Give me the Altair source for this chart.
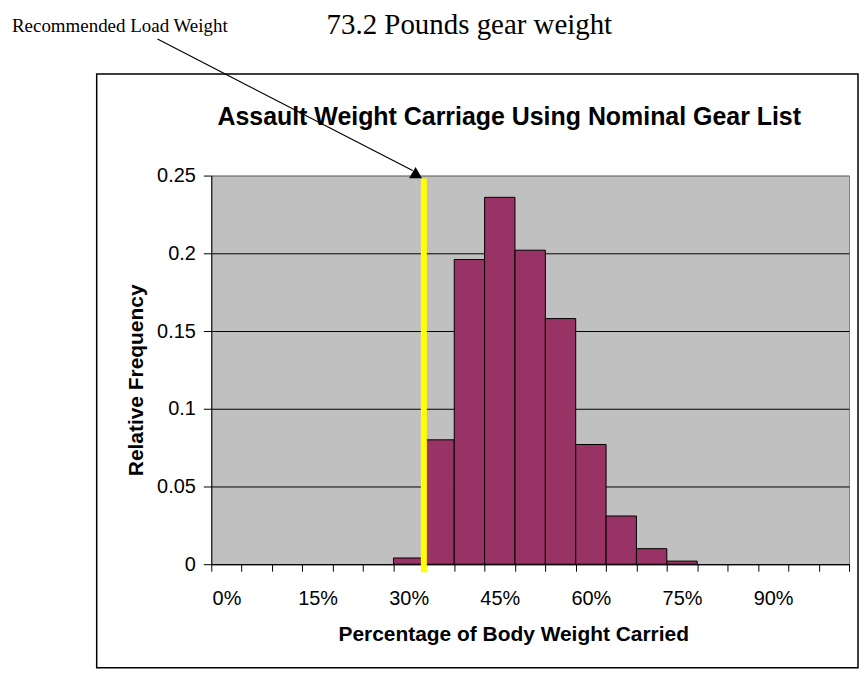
import json
import altair as alt
import pandas as pd

# ---- data ----
categories = ["0%", "5%", "10%", "15%", "20%", "25%", "30%", "35%", "40%", "45%", "50%",
              "55%", "60%", "65%", "70%", "75%", "80%", "85%", "90%", "95%", "100%"]
rel_freq = [0, 0, 0, 0, 0, 0, 0.004, 0.080, 0.196, 0.236, 0.202,
            0.158, 0.077, 0.031, 0.010, 0.002, 0, 0, 0, 0, 0]
shown_labels = ["0%", "15%", "30%", "45%", "60%", "75%", "90%"]
y_ticks = [0, 0.05, 0.1, 0.15, 0.2, 0.25]
recommended_category = ["35%"]  # recommended load line sits at the left edge of this bin

chart_title = "Assault Weight Carriage Using Nominal Gear List"
top_text = "73.2 Pounds gear weight"
note_text = "Recommended Load Weight"
x_title = "Percentage of Body Weight Carried"
y_title = "Relative Frequency"

SANS = "Liberation Sans, Arial, sans-serif"
SERIF = "Liberation Serif, Times New Roman, serif"

bars_df = pd.DataFrame({"category": categories, "freq": rel_freq})
bars_df = bars_df[bars_df["freq"] > 0]
rec_df = pd.DataFrame({"category": recommended_category})

x_scale = alt.Scale(domain=categories, paddingInner=0, paddingOuter=0)
x_axis = alt.Axis(
    title=x_title,
    titleFont=SANS, titleFontSize=21, titleFontWeight="bold", titleColor="black",
    titleX=303, titleY=77, titleBaseline="alphabetic", titleAlign="center",
    labelExpr="indexof(" + json.dumps(shown_labels).replace('"', "'") + ", datum.label) >= 0 ? datum.label : ''",
    labelFont=SANS, labelFontSize=20, labelColor="black", labelAngle=0,
    labelBaseline="alphabetic", labelPadding=33, labelOverlap=False,
    tickBand="extent", tickColor="black", tickSize=7, tickWidth=1,
    domainColor="black", domainWidth=1, grid=False,
)
y_scale = alt.Scale(domain=[0, 0.25], nice=False, zero=True)
y_axis = alt.Axis(
    title=y_title,
    titleFont=SANS, titleFontSize=21, titleFontWeight="bold", titleColor="black",
    titleX=-69, titleY=205, titleAngle=270, titleBaseline="alphabetic", titleAlign="center",
    values=y_ticks, format="~g",
    labelFont=SANS, labelFontSize=20, labelColor="black", labelPadding=8,
    tickColor="black", tickSize=8, tickWidth=1,
    domainColor="black", domainWidth=1,
    grid=True, gridWidth=1,
    gridColor={"condition": {"test": "datum.value >= 0.249", "value": "#808080"}, "value": "black"},
)

bars = alt.Chart(bars_df).mark_bar(fill="#993366", stroke="black", strokeWidth=1).encode(
    x=alt.X("category:O", scale=x_scale, axis=x_axis, sort=categories),
    y=alt.Y("freq:Q", scale=y_scale, axis=y_axis),
)

rec_line = alt.Chart(rec_df).mark_rule(color="#FFFF00", strokeWidth=6).encode(
    x=alt.X("category:O", scale=x_scale, axis=x_axis, sort=categories, bandPosition=0),
    y=alt.value(3),
    y2=alt.value(398),
)

def text_layer(txt, x, y, font, size, weight="normal", align="center"):
    return alt.Chart(pd.DataFrame({"t": [txt]})).mark_text(
        font=font, fontSize=size, fontWeight=weight, align=align,
        baseline="alphabetic", color="black",
    ).encode(text="t:N", x=alt.value(x), y=alt.value(y))

title_layer = text_layer(chart_title, 299, -51, SANS, 25, "bold")
top_layer = text_layer(top_text, 259, -142, SERIF, 29)
note_layer = text_layer(note_text, -200, -144, SERIF, 19, align="left")

border = alt.Chart(pd.DataFrame({"a": [0]})).mark_rect(
    fill="transparent", stroke="black", strokeWidth=1.5
).encode(x=alt.value(-115), x2=alt.value(649), y=alt.value(-102), y2=alt.value(494))

arrow_line = alt.Chart(pd.DataFrame({"a": [0]})).mark_rule(color="black", strokeWidth=1.2).encode(
    x=alt.value(-54), y=alt.value(-137), x2=alt.value(202), y2=alt.value(-5)
)
arrow_head = alt.Chart(pd.DataFrame({"a": [0]})).mark_point(
    shape="triangle-up", filled=True, color="black", size=170, opacity=1
).encode(x=alt.value(205), y=alt.value(-3))

chart = alt.layer(
    border, bars, rec_line, title_layer, top_layer, note_layer, arrow_line, arrow_head
).properties(
    width=640, height=390,
    autosize=alt.AutoSizeParams(type="none"),
    padding={"left": 204, "top": 167, "right": 10, "bottom": 104},
    background="white",
).configure_view(
    fill="#C0C0C0", stroke="#808080", strokeWidth=1
)

chart.save("out.html", embed_options={"renderer": "svg", "actions": False})
